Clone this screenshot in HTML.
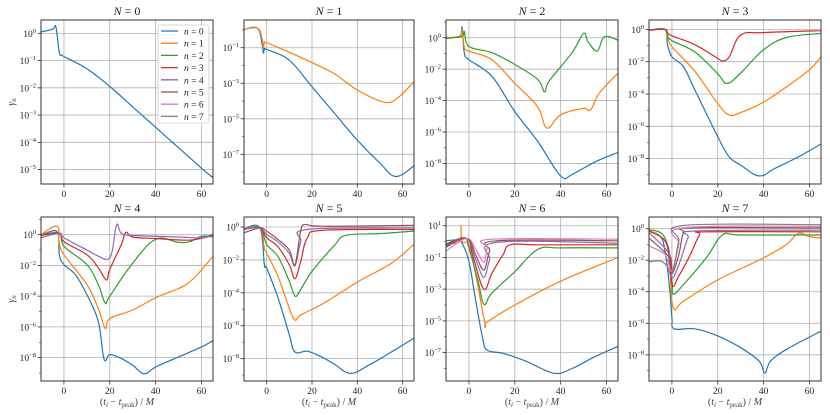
<!DOCTYPE html>
<html><head><meta charset="utf-8"><style>
html,body{margin:0;padding:0;background:#fff;}
svg{display:block;font-family:"Liberation Serif","DejaVu Serif",serif;}
</style></head><body>
<svg id="chart" width="830" height="415" viewBox="0 0 830 415"></svg>
<script>
const colors=["#1f77b4","#ff7f0e","#2ca02c","#d62728","#9467bd","#8c564b","#e377c2","#7f7f7f"];
const xTicks=[0,20,40,60];
const legendLabels=["n = 0","n = 1","n = 2","n = 3","n = 4","n = 5","n = 6","n = 7"];
const yTicks=[[0,-1,-2,-3,-4,-5],[-1,-3,-5,-7],[0,-2,-4,-6,-8],[0,-2,-4,-6,-8],[0,-2,-4,-6,-8],[0,-2,-4,-6,-8],[1,-1,-3,-5,-7],[0,-2,-4,-6,-8]];
const yRanges=[[-5.53,0.49],[-8.67,0.56],[-9.31,1.13],[-9.57,0.58],[-9.52,1.15],[-9.36,0.61],[-8.79,1.55],[-9.66,0.74]];
// series: [x values], [log10 gamma values]
const p0x=[[-10,-5,-3.5,-2,-1,0,10,20,30,40,50,60,65]];
const p0y=[[0.05,0.15,0.23,-0.7,-0.8,-0.85,-1.3,-1.95,-2.7,-3.45,-4.2,-4.95,-5.3]];
const p1x=[[-10,-4,-2,-1.5,-1,0,10,20,30,40,50,57,65],[-10,-4,-2,-1.5,-1,0,10,20,30,40,52,58,65]];
const p1y=[[0.03,0.1,-0.8,-1.3,-1.1,-1.1,-1.7,-3.2,-4.7,-6.2,-7.5,-8.25,-7.65],[0.03,0.1,-0.5,-1.0,-0.75,-0.72,-1.26,-1.84,-2.48,-3.38,-4.07,-3.8,-2.91]];
const p2x=[[-10,-4,-3,-2,0,10,20,30,40,45,55,65],[-10,-4,-3,-2,0,10,20,30,34,40,50,53,57,65],[-10,-3,-2,0,10,20,30,33,35,45,50,52,56,59,65]];
const p2y=[[0,0.1,0.65,-0.95,-1.4,-2.45,-4.7,-6.6,-8.8,-8.7,-7.9,-7.3],[0,0.1,0.5,-0.6,-0.85,-1.4,-2.9,-4.4,-5.75,-4.9,-4.5,-4.6,-3.5,-2.25],[-0.05,0.1,0.4,-0.55,-0.95,-1.7,-2.65,-3.45,-2.75,-0.95,0.28,-0.28,-0.85,0.06,-0.15]];
const p3x=[[-10,-3,-2,0,5,10,20,25,30,38,45,55,65],[-10,-3,-2,0,10,20,25,30,40,50,60,65],[-10,-3,-2,0,10,20,24,30,40,50,65],[-10,-3,-2,0,10,20,22,25,30,40,65]];
const p3y=[[-0.05,0,-0.87,-1.7,-2.3,-3.75,-6.65,-7.9,-8.4,-9.07,-8.6,-7.9,-7.1],[-0.05,0,-0.45,-1.07,-2.6,-4.6,-5.3,-5.15,-4.5,-3.55,-2.5,-1.7],[-0.05,0,-0.35,-0.7,-1.4,-2.75,-3.35,-2.7,-1.25,-0.5,-0.25],[-0.05,0,-0.2,-0.4,-0.95,-1.8,-1.95,-1.7,-0.35,-0.2,-0.08]];
const p4x=[[-10,-3,-2,0,5,10,15,17.5,20,25,30,35,40,50,60,65],[-10,-3,-2,0,10,15,18,20,30,40,50,55,60,65],[-10,-2,0,10,15,18,20,30,40,50,55,60,65],[-10,-2,0,10,15,18.5,20,25,27,30,40,55,65],[-10,-2,0,10,15,19,21,23,25,30,50,60,65]];
const p4y=[[-0.05,0.2,-1.3,-1.95,-2.6,-3.9,-5.65,-8.1,-7.8,-8.05,-8.5,-9.05,-8.6,-7.95,-7.3,-6.9],[0,0.55,-0.55,-1.3,-3.25,-4.8,-6.1,-5.45,-4.9,-4.1,-3.5,-3.05,-2.3,-1.4],[0,0.1,-0.75,-1.95,-3.25,-4.45,-4.0,-1.85,-0.3,-0.5,-0.45,-0.1,-0.15],[-0.05,0.1,-0.45,-1.3,-2.15,-2.95,-2.25,-0.65,0.15,-0.15,-0.25,-0.35,-0.05],[-0.2,0.1,-0.2,-1.0,-1.4,-1.6,-1.1,0.65,0.1,-0.05,-0.15,-0.2,0.05]];
const p5x=[[-10,-3,-1,0,5,10,12.5,18,25,30,37,45,55,65],[-10,-3,-1,0,5,10,12.5,15,25,40,55,65],[-10,-3,0,5,10,12.5,15,20,30,35,50,65],[-10,-3,0,5,10,12.5,15,18,25,65],[-10,-3,0,5,10,12.5,15,18,65],[-10,-3,0,5,10,12.5,15,17,25,65]];
const p5y=[[-0.1,-0.05,-2.3,-2.5,-4.3,-6.55,-7.6,-7.55,-7.95,-8.35,-8.9,-8.4,-7.6,-6.75],[-0.1,-0.05,-1.3,-1.6,-3.0,-4.95,-5.65,-5.35,-4.65,-3.35,-2.2,-1.05],[-0.1,-0.05,-1.05,-1.8,-3.3,-4.2,-3.8,-2.7,-1.1,-0.5,-0.4,-0.25],[-0.15,-0.05,-0.65,-1.2,-2.3,-3.15,-2.1,-0.65,-0.2,-0.15],[-0.1,-0.05,-0.45,-0.9,-1.6,-2.35,-0.9,-0.15,-0.05],[-0.35,-0.05,-0.25,-0.75,-1.4,-2.3,-0.25,0.15,0.05,0.1]];
const p6x=[[-10,-5,-3,0,3,6,8,15,25,37,45,55,65],[-10,-4,-3.5,-3,0,3,7,8,20,40,65],[-10,-2,0,4,6.5,10,20,30,40,65],[-10,-1,2,6.5,10,15,18,30,65],[-10,-1,3,6.5,9,12,65],[-10,-1,3,6.5,9,12,65],[-10,-1,3,6.5,8,10,65]];
const p6y=[[0.05,0.1,-0.1,-1.25,-3.75,-6.1,-6.85,-7.05,-7.55,-8.3,-8.0,-7.25,-6.6],[-0.1,0,1.0,0,-0.2,-2.1,-5.15,-5.05,-4.0,-2.5,-1.0],[-0.15,0.25,-0.4,-2.5,-3.95,-3.25,-1.9,-0.5,-0.4,-0.4],[-0.2,0.2,-1.05,-3.0,-2.0,-0.8,-0.2,-0.2,-0.2],[-0.3,0.2,-1.15,-2.25,-1.15,-0.05,-0.1],[-0.35,0.2,-0.85,-1.8,-0.6,0.05,0.05],[-0.6,0.2,-0.5,-1.3,-0.4,0.15,0.15]];
const p7x=[[-10,-5,-3,-1,0,1,10,20,30,38,40.5,43,50,65],[-10,-3,-1,0.5,5,20,40,50,55,60,65],[-10,-3,0,0.5,5,15,22,30,65],[-10,-2,0,3,8,12,15,65],[-10,-1,0,3,7,10,65],[-10,-1,0,3,5,8,65],[-10,-3,0,3,5,65],[-10,-5,-2,0,3,5,65]];
const p7y=[[-0.15,-0.5,-1.45,-3.75,-5.65,-6.35,-6.35,-6.8,-7.55,-8.4,-9.15,-8.4,-7.65,-6.5],[-0.1,-0.8,-2.3,-5.0,-4.6,-3.25,-1.85,-1.0,-0.3,-0.5,-0.6],[-0.05,-0.6,-3.25,-4.15,-3.55,-1.85,-0.4,-0.4,-0.4],[-0.15,-1.0,-3.55,-3.0,-1.65,-0.4,-0.2,-0.2],[-0.25,-1.65,-3.1,-2.3,-0.6,-0.15,-0.1],[-0.6,-1.85,-2.9,-1.65,-0.25,0.05,0.05],[-1.1,-1.65,-2.7,-1.0,0.05,0.15],[-2.1,-2.05,-2.4,-2.9,-0.8,0.2,0.25]];
const panelXs=[p0x,p1x,p2x,p3x,p4x,p5x,p6x,p7x];
const panelYs=[p0y,p1y,p2y,p3y,p4y,p5y,p6y,p7y];

const NS="http://www.w3.org/2000/svg";
const svg=document.getElementById('chart');
function mk(tag,attrs,parent){const e=document.createElementNS(NS,tag);for(const k in attrs)e.setAttribute(k,attrs[k]);(parent||svg).appendChild(e);return e;}
function smooth(pts){
  let d='M'+pts[0][0].toFixed(1)+','+pts[0][1].toFixed(1);
  const k=0.18;
  for(let i=0;i<pts.length-1;i++){
    const p0=pts[Math.max(0,i-1)],p1=pts[i],p2=pts[i+1],p3=pts[Math.min(pts.length-1,i+2)];
    const c1x=p1[0]+(p2[0]-p0[0])*k,c1y=p1[1]+(p2[1]-p0[1])*k;
    const c2x=p2[0]-(p3[0]-p1[0])*k,c2y=p2[1]-(p3[1]-p1[1])*k;
    d+='C'+c1x.toFixed(1)+','+c1y.toFixed(1)+' '+c2x.toFixed(1)+','+c2y.toFixed(1)+' '+p2[0].toFixed(1)+','+p2[1].toFixed(1);
  }
  return d;
}
const colL=[41,244,446,649],colR=[213,414,618,821];
const rowT=[20,217],rowB=[184,381];
const xMin=-10,xMax=65;
for(let p=0;p<8;p++){
  const c=p%4,r=Math.floor(p/4);
  const L=colL[c],R=colR[c],T=rowT[r],B=rowB[r];
  const [y0,y1]=yRanges[p];
  const sx=v=>L+(v-xMin)/(xMax-xMin)*(R-L);
  const sy=v=>B-(v-y0)/(y1-y0)*(B-T);
  const g=mk('g',{});
  
  
  mk('defs',{},g).innerHTML='<clipPath id="clip'+p+'"><rect x="'+L+'" y="'+T+'" width="'+(R-L)+'" height="'+(B-T)+'"/></clipPath>';
  for(const t of xTicks){
    const gl=mk('line',{x1:sx(t),x2:sx(t),y1:T,y2:B,stroke:'#b0b0b0','stroke-width':0.8},g);
    
    
    mk('line',{x1:sx(t),x2:sx(t),y1:B,y2:B+3.5,stroke:'#333','stroke-width':0.8},g);
    const tl=mk('text',{x:sx(t),y:B+13,'font-size':9.5,'text-anchor':'middle',fill:'#222'},g);
    tl.textContent=t;
    
    
  }
  for(let d=Math.ceil(y0);d<=Math.floor(y1);d++){
    mk('line',{x1:L-2,x2:L,y1:sy(d),y2:sy(d),stroke:'#333','stroke-width':0.6},g);
  }
  for(const t of yTicks[p]){
    const gl=mk('line',{x1:L,x2:R,y1:sy(t),y2:sy(t),stroke:'#b0b0b0','stroke-width':0.8},g);
    
    
    mk('line',{x1:L-3.5,x2:L,y1:sy(t),y2:sy(t),stroke:'#333','stroke-width':0.8},g);
    const tl=mk('text',{x:L-5,y:sy(t)+3.5,'font-size':9.5,'text-anchor':'end',fill:'#222'},g);
    tl.innerHTML='10<tspan dy="-4" font-size="6.5">'+(t<0?'\u2212'+(-t):t)+'</tspan>';
    
    
  }
  const xs=panelXs[p],ys=panelYs[p];
  for(let s=0;s<xs.length;s++){
    const pts=xs[s].map((x,i)=>[sx(x),sy(ys[s][i])]);
    const pl=mk('path',{d:smooth(pts),fill:'none',stroke:colors[s],'stroke-width':1.2,'clip-path':'url(#clip'+p+')','stroke-linejoin':'round'},g);
    
    
  }
  const fr=mk('rect',{x:L,y:T,width:R-L,height:B-T,fill:'none',stroke:'#333','stroke-width':1},g);
  
  
  const ti=mk('text',{x:(L+R)/2,y:T-5,'font-size':12,'text-anchor':'middle',fill:'#222'},g);
  ti.innerHTML='<tspan font-style="italic">N</tspan> = '+p;
  
  
  if(r===1){
    const xl=mk('text',{x:(L+R)/2,y:405,'font-size':10,'text-anchor':'middle',fill:'#444'},g);
    xl.innerHTML='(<tspan font-style="italic">t</tspan><tspan font-size="7" dy="2" font-style="italic">i</tspan><tspan dy="-2"> \u2212 </tspan><tspan font-style="italic">t</tspan><tspan font-size="7" dy="2">peak</tspan><tspan dy="-2">) / </tspan><tspan font-style="italic">M</tspan>';
    
    
  }
  if(c===0){
    const yl=mk('text',{x:14,y:(T+B)/2,'font-size':10,'text-anchor':'middle',fill:'#444',transform:'rotate(-90 14 '+((T+B)/2)+')'},g);
    yl.innerHTML='<tspan font-style="italic">\u03b3</tspan><tspan font-size="7" dy="2" font-style="italic">n</tspan>';
    
    
  }
}
const lg=mk('g',{});


mk('rect',{x:158,y:25,width:51,height:98,rx:2,fill:'#fff','fill-opacity':0.9,stroke:'#ccc','stroke-width':0.8},lg);
for(let i=0;i<legendLabels.length;i++){
  const yy=31+i*12.2;
  const le=mk('g',{},lg);
  
  
  mk('line',{x1:161,x2:178,y1:yy,y2:yy,stroke:colors[i],'stroke-width':1.3},le);
  const t=mk('text',{x:184,y:yy+3.5,'font-size':9.5,fill:'#222'},le);
  t.innerHTML='<tspan font-style="italic">n</tspan> = '+i;
}
</script>
</body></html>
